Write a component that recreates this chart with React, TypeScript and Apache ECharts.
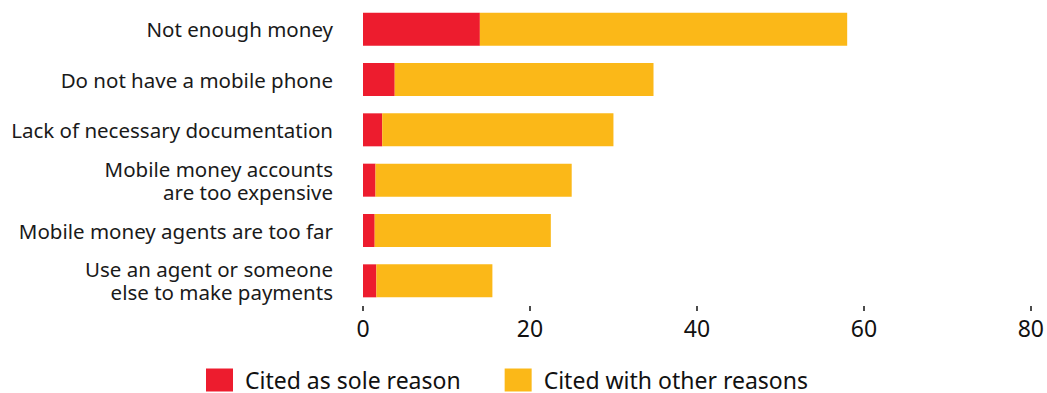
import React, { useEffect, useRef } from "react";
import * as echarts from "echarts";

const categories = [
  "Not enough money",
  "Do not have a mobile phone",
  "Lack of necessary documentation",
  "Mobile money accounts\nare too expensive",
  "Mobile money agents are too far",
  "Use an agent or someone\nelse to make payments",
];
const soleReason = [14.0, 3.8, 2.3, 1.5, 1.4, 1.6];
const withOtherReasons = [44.0, 31.0, 27.7, 23.5, 21.1, 13.9];
const seriesNames = ["Cited as sole reason", "Cited with other reasons"];
const xTicks = { min: 0, max: 80, interval: 20 };

const RED = "#ED1C2E";
const YELLOW = "#FBB818";
const FONT = "'Noto Sans', 'Open Sans', sans-serif";

export default function App() {
  const ref = useRef<HTMLDivElement>(null);
  useEffect(() => {
    document.body.style.margin = "0";
    if (!ref.current) return;
    const chart = echarts.init(ref.current, null, { renderer: "svg" });
    chart.setOption({
      animation: false,
      backgroundColor: "#ffffff",
      textStyle: { fontFamily: FONT },
      grid: { left: 363, right: 15, top: 4, height: 302, containLabel: false },
      legend: {
        left: 206,
        top: 367,
        padding: 0,
        itemWidth: 27,
        itemHeight: 23,
        itemGap: 44,
        icon: "rect",
        textStyle: {
          fontSize: 23,
          lineHeight: 26,
          color: "#111",
          fontFamily: FONT,
          padding: [0, 0, 0, 7],
        },
        data: seriesNames,
      },
      xAxis: {
        type: "value",
        min: xTicks.min,
        max: xTicks.max,
        interval: xTicks.interval,
        axisLine: { show: false },
        axisTick: { show: true, length: 5, lineStyle: { color: "#111", width: 1.5 } },
        splitLine: { show: false },
        axisLabel: { fontSize: 23, color: "#111", margin: 10, fontFamily: FONT },
      },
      yAxis: {
        type: "category",
        data: categories,
        inverse: true,
        axisLine: { show: false },
        axisTick: { show: false },
        axisLabel: {
          fontSize: 20.5,
          color: "#1a1a1a",
          margin: 30,
          lineHeight: 23,
          align: "right",
          fontFamily: FONT,
        },
      },
      series: [
        {
          name: seriesNames[0],
          type: "bar",
          stack: "total",
          data: soleReason,
          barWidth: 33,
          itemStyle: { color: RED },
        },
        {
          name: seriesNames[1],
          type: "bar",
          stack: "total",
          data: withOtherReasons,
          barWidth: 33,
          itemStyle: { color: YELLOW },
        },
      ],
    });
    return () => chart.dispose();
  }, []);
  return <div ref={ref} style={{ width: 1047, height: 393 }} />;
}
